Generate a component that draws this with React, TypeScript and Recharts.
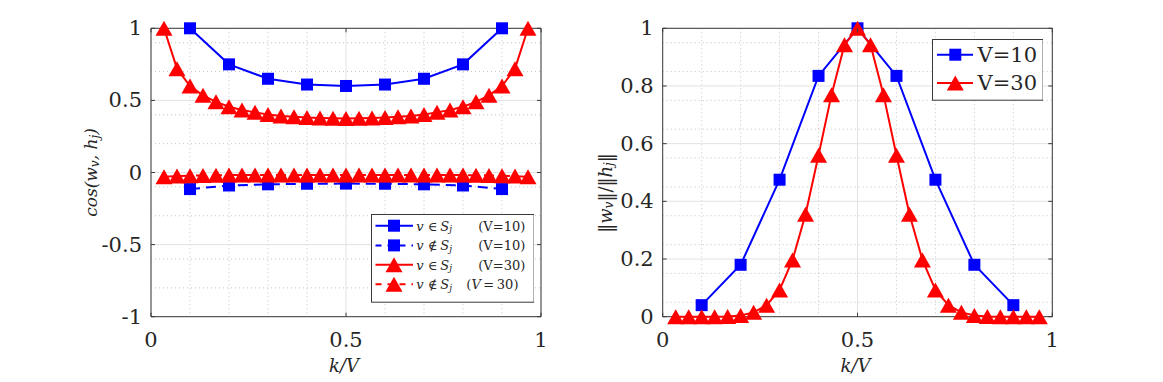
import React from 'react';
import { LineChart, Line, XAxis, YAxis, CartesianGrid, ReferenceArea, Legend } from 'recharts';

// ---------- data ----------
const V_SMALL = 10;
const V_LARGE = 30;
const k10 = [1, 2, 3, 4, 5, 6, 7, 8, 9];
const k30 = [1, 2, 3, 4, 5, 6, 7, 8, 9, 10, 11, 12, 13, 14, 15, 16, 17, 18, 19, 20, 21, 22, 23, 24, 25, 26, 27, 28, 29];

const cosInV10 = [1.0, 0.75, 0.65, 0.61, 0.6, 0.61, 0.65, 0.75, 1.0];
const cosOutV10 = [-0.115, -0.09, -0.082, -0.078, -0.077, -0.078, -0.082, -0.09, -0.115];
const cosInV30 = [1.0, 0.72, 0.6, 0.535, 0.49, 0.456, 0.433, 0.417, 0.402, 0.392, 0.386, 0.381, 0.378, 0.376, 0.375,
  0.376, 0.378, 0.381, 0.386, 0.392, 0.402, 0.417, 0.433, 0.456, 0.49, 0.535, 0.6, 0.72, 1.0];
const cosOutV30 = [-0.03, -0.025, -0.022, -0.02, -0.019, -0.018, -0.018, -0.018, -0.018, -0.018, -0.018, -0.018, -0.018, -0.018, -0.018,
  -0.018, -0.018, -0.018, -0.018, -0.018, -0.018, -0.018, -0.018, -0.018, -0.019, -0.02, -0.022, -0.025, -0.03];

const normV10 = [0.04, 0.18, 0.475, 0.835, 1.0, 0.835, 0.475, 0.18, 0.04];
const normV30 = [0, 0, 0, 0, 0.001, 0.004, 0.015, 0.04, 0.093, 0.197, 0.355, 0.56, 0.77, 0.943, 1.0,
  0.943, 0.77, 0.56, 0.355, 0.197, 0.093, 0.04, 0.015, 0.004, 0.001, 0, 0, 0, 0];

const xTicks = [0, 0.5, 1];
const xMinor = [0.1, 0.2, 0.3, 0.4, 0.6, 0.7, 0.8, 0.9];
const leftYTicks = [-1, -0.5, 0, 0.5, 1];
const leftYMinor = [-0.9, -0.8, -0.7, -0.6, -0.4, -0.3, -0.2, -0.1, 0.1, 0.2, 0.3, 0.4, 0.6, 0.7, 0.8, 0.9];
const rightYTicks = [0, 0.2, 0.4, 0.6, 0.8, 1];
const rightYMinor = [0.05, 0.1, 0.15, 0.25, 0.3, 0.35, 0.45, 0.5, 0.55, 0.65, 0.7, 0.75, 0.85, 0.9, 0.95];

const toPoints = (ks: number[], V: number, ys: number[]) => ks.map((k, i) => ({ x: k / V, y: ys[i] }));

const sInV10 = toPoints(k10, V_SMALL, cosInV10);
const sOutV10 = toPoints(k10, V_SMALL, cosOutV10);
const sInV30 = toPoints(k30, V_LARGE, cosInV30);
const sOutV30 = toPoints(k30, V_LARGE, cosOutV30);
const sNormV10 = toPoints(k10, V_SMALL, normV10);
const sNormV30 = toPoints(k30, V_LARGE, normV30);

// ---------- styles ----------
const BLUE = '#0000ff';
const RED = '#ff0000';
const AX = '#3a3a3a';
const TXT = '#262626';
const FONT = "'DejaVu Serif', serif";
const TICK_FS = 21;
const SQ = 12;
const TRI_W = 17;
const TRI_H = 15;

const H = 382;
const TOP = 28.3;
const BOTTOM = 316.7;
const L_W = 580;
const L_LEFT = 151;
const L_RIGHT = 541;
const R_OFF = 580;
const R_W = 583;
const R_LEFT = 662.7 - R_OFF;
const R_RIGHT = 1052.3 - R_OFF;
const Y_AXIS_W = 60;
const X_AXIS_H = 30;

const Square = ({ cx, cy, color }: any) => (
  <rect x={cx - SQ / 2} y={cy - SQ / 2} width={SQ} height={SQ} fill={color} />
);
const Triangle = ({ cx, cy, color }: any) => (
  <polygon
    points={`${cx},${cy - TRI_H / 2} ${cx + TRI_W / 2},${cy + TRI_H / 2} ${cx - TRI_W / 2},${cy + TRI_H / 2}`}
    fill={color}
  />
);

const squareDot = (color: string) => (p: any) => (
  <Square key={`s${p.index}`} cx={p.cx} cy={p.cy} color={color} />
);
const triDot = (color: string) => (p: any) => (
  <Triangle key={`t${p.index}`} cx={p.cx} cy={p.cy} color={color} />
);

const makeXTick = (plotTop: number, plotBottom: number) => (props: any) => {
  const { x, payload } = props;
  return (
    <g>
      <line x1={x} x2={x} y1={plotBottom} y2={plotBottom - 4} stroke={AX} strokeWidth={1} />
      <line x1={x} x2={x} y1={plotTop} y2={plotTop + 4} stroke={AX} strokeWidth={1} />
      <text x={x} y={plotBottom + 23.5} textAnchor="middle" dominantBaseline="central" style={{ fontFamily: FONT, fontSize: TICK_FS }} fill={TXT}>
        {String(payload.value)}
      </text>
    </g>
  );
};

const makeYTick = (plotLeft: number, plotRight: number) => (props: any) => {
  const { y, payload } = props;
  return (
    <g>
      <line x1={plotLeft} x2={plotLeft + 4} y1={y} y2={y} stroke={AX} strokeWidth={1} />
      <line x1={plotRight - 4} x2={plotRight} y1={y} y2={y} stroke={AX} strokeWidth={1} />
      <text x={plotLeft - 9} y={y} textAnchor="end" dominantBaseline="central" style={{ fontFamily: FONT, fontSize: TICK_FS }} fill={TXT}>
        {String(payload.value)}
      </text>
    </g>
  );
};

const XLabel = ({ cx }: any) => (
  <text x={cx} y={365} textAnchor="middle" dominantBaseline="central" style={{ fontFamily: FONT, fontSize: 18, fontStyle: 'italic' }} fill={TXT}>
    k/V
  </text>
);

const LeftYLabel = () => (
  <text transform="translate(91,172.5) rotate(-90)" textAnchor="middle" dominantBaseline="central" style={{ fontFamily: FONT, fontSize: 17, fontStyle: 'italic' }} fill={TXT}>
    <tspan>cos(w</tspan>
    <tspan fontSize={12} dy={4}>v</tspan>
    <tspan dy={-4}>{', h'}</tspan>
    <tspan fontSize={12} dy={4}>j</tspan>
    <tspan dy={-4}>)</tspan>
  </text>
);

const RightYLabel = () => (
  <text transform={`translate(${605 - R_OFF},193) rotate(-90)`} textAnchor="middle" dominantBaseline="central" style={{ fontFamily: FONT, fontSize: 18, fontStyle: 'italic' }} fill={TXT}>
    <tspan fontStyle="normal">‖</tspan>
    <tspan>w</tspan>
    <tspan fontSize={12} dy={4}>v</tspan>
    <tspan dy={-4} fontStyle="normal">{'‖/‖'}</tspan>
    <tspan>h</tspan>
    <tspan fontSize={12} dy={4}>j</tspan>
    <tspan dy={-4} fontStyle="normal">‖</tspan>
  </text>
);

// ---------- legends ----------
const LEFT_LEG = { left: 370.7, top: 214, width: 163.6, height: 88.7 };
const leftRows = [
  { color: BLUE, marker: 'square', dashed: false, rel: '\u2208', tail: '(V=10)', tailX: 107.3, italicV: false },
  { color: BLUE, marker: 'square', dashed: true, rel: '\u2209', tail: '(V=10)', tailX: 107.3, italicV: false },
  { color: RED, marker: 'tri', dashed: false, rel: '\u2208', tail: '(V=30)', tailX: 107.3, italicV: false },
  { color: RED, marker: 'tri', dashed: true, rel: '\u2209', tail: '', tailX: 95.3, italicV: true },
];
const leftRowY = [11.7, 31.4, 50.8, 70.2];

const LeftLegendContent = () => (
  <svg width={LEFT_LEG.width} height={LEFT_LEG.height} style={{ display: 'block' }}>
    <rect x={0.5} y={0.5} width={LEFT_LEG.width - 1} height={LEFT_LEG.height - 1} fill="#fff" stroke={AX} strokeWidth={1} />
    {leftRows.map((r, i) => {
      const cy = leftRowY[i];
      return (
        <g key={i}>
          <line x1={4.5} x2={42} y1={cy} y2={cy} stroke={r.color} strokeWidth={2} strokeDasharray={r.dashed ? '6 6' : undefined} />
          {r.marker === 'square' ? <Square cx={23} cy={cy} color={r.color} /> : <Triangle cx={23} cy={cy} color={r.color} />}
          <text y={cy} dominantBaseline="central" style={{ fontFamily: FONT, fontSize: 13 }} fill={TXT}>
            <tspan x={45.3} fontStyle="italic">v</tspan>
            <tspan x={57}>{r.rel}</tspan>
            <tspan x={69.3} fontStyle="italic">S</tspan>
            <tspan fontStyle="italic" fontSize={9} dy={3.5}>j</tspan>
            {r.italicV ? (
              <>
                <tspan x={r.tailX} dy={-3.5}>(</tspan>
                <tspan fontStyle="italic">V</tspan>
                <tspan>{'\u2009=\u200930)'}</tspan>
              </>
            ) : (
              <tspan x={r.tailX} dy={-3.5}>{r.tail}</tspan>
            )}
          </text>
        </g>
      );
    })}
  </svg>
);

const RIGHT_LEG = { left: 931.7 - R_OFF, top: 39.3, width: 111.6, height: 61.7 };
const rightRows = [
  { color: BLUE, marker: 'square', text: 'V=10' },
  { color: RED, marker: 'tri', text: 'V=30' },
];
const rightRowY = [15.7, 44];

const RightLegendContent = () => (
  <svg width={RIGHT_LEG.width} height={RIGHT_LEG.height} style={{ display: 'block' }}>
    <rect x={0.5} y={0.5} width={RIGHT_LEG.width - 1} height={RIGHT_LEG.height - 1} fill="#fff" stroke={AX} strokeWidth={1} />
    {rightRows.map((r, i) => {
      const cy = rightRowY[i];
      return (
        <g key={i}>
          <line x1={5} x2={41} y1={cy} y2={cy} stroke={r.color} strokeWidth={2} />
          {r.marker === 'square' ? <Square cx={23.3} cy={cy} color={r.color} /> : <Triangle cx={23.3} cy={cy} color={r.color} />}
          <text x={45.6} y={cy} dominantBaseline="central" style={{ fontFamily: FONT, fontSize: 21 }} fill={TXT}>{r.text}</text>
        </g>
      );
    })}
  </svg>
);

export default function App() {
  return (
    <div style={{ position: 'absolute', left: 0, top: 0, width: 1163, height: H, background: '#fff', overflow: 'hidden' }}>
      <div style={{ position: 'absolute', left: 0, top: 0 }}>
        <LineChart
          width={L_W}
          height={H}
          margin={{ top: TOP, right: L_W - L_RIGHT, bottom: H - BOTTOM - X_AXIS_H, left: L_LEFT - Y_AXIS_W }}
        >
          <CartesianGrid verticalValues={xMinor} horizontalValues={leftYMinor} stroke="#c4c4c4" strokeDasharray="1 3" />
          <CartesianGrid verticalValues={xTicks} horizontalValues={leftYTicks} stroke="#e2e2e2" />
          <XAxis
            type="number"
            dataKey="x"
            domain={[0, 1]}
            ticks={xTicks}
            height={X_AXIS_H}
            axisLine={false}
            tickLine={false}
            tick={makeXTick(TOP, BOTTOM)}
            label={<XLabel cx={(L_LEFT + L_RIGHT) / 2 - 2} />}
          />
          <YAxis
            type="number"
            dataKey="y"
            domain={[-1, 1]}
            ticks={leftYTicks}
            width={Y_AXIS_W}
            axisLine={false}
            tickLine={false}
            tick={makeYTick(L_LEFT, L_RIGHT)}
            label={<LeftYLabel />}
          />
          <ReferenceArea x1={0} x2={1} y1={-1} y2={1} fill="none" fillOpacity={0} stroke={AX} strokeWidth={1} />
          <Line data={sInV10} dataKey="y" name="in10" type="linear" stroke={BLUE} strokeWidth={2} dot={squareDot(BLUE)} activeDot={false} isAnimationActive={false} />
          <Line data={sOutV10} dataKey="y" name="out10" type="linear" stroke={BLUE} strokeWidth={2} strokeDasharray="10 6" dot={squareDot(BLUE)} activeDot={false} isAnimationActive={false} />
          <Line data={sInV30} dataKey="y" name="in30" type="linear" stroke={RED} strokeWidth={2} dot={triDot(RED)} activeDot={false} isAnimationActive={false} />
          <Line data={sOutV30} dataKey="y" name="out30" type="linear" stroke={RED} strokeWidth={2} strokeDasharray="10 6" dot={triDot(RED)} activeDot={false} isAnimationActive={false} />
          <Legend
            layout="vertical"
            align="center"
            verticalAlign="middle"
            wrapperStyle={{ left: LEFT_LEG.left, top: LEFT_LEG.top, width: LEFT_LEG.width, height: LEFT_LEG.height }}
            content={() => <LeftLegendContent />}
          />
        </LineChart>
      </div>
      <div style={{ position: 'absolute', left: R_OFF, top: 0 }}>
        <LineChart
          width={R_W}
          height={H}
          margin={{ top: TOP, right: R_W - R_RIGHT, bottom: H - BOTTOM - X_AXIS_H, left: R_LEFT - Y_AXIS_W }}
        >
          <CartesianGrid verticalValues={xMinor} horizontalValues={rightYMinor} stroke="#c4c4c4" strokeDasharray="1 3" />
          <CartesianGrid verticalValues={xTicks} horizontalValues={rightYTicks} stroke="#e2e2e2" />
          <XAxis
            type="number"
            dataKey="x"
            domain={[0, 1]}
            ticks={xTicks}
            height={X_AXIS_H}
            axisLine={false}
            tickLine={false}
            tick={makeXTick(TOP, BOTTOM)}
            label={<XLabel cx={(R_LEFT + R_RIGHT) / 2 - 2} />}
          />
          <YAxis
            type="number"
            dataKey="y"
            domain={[0, 1]}
            ticks={rightYTicks}
            width={Y_AXIS_W}
            axisLine={false}
            tickLine={false}
            tick={makeYTick(R_LEFT, R_RIGHT)}
            label={<RightYLabel />}
          />
          <ReferenceArea x1={0} x2={1} y1={0} y2={1} fill="none" fillOpacity={0} stroke={AX} strokeWidth={1} />
          <Line data={sNormV10} dataKey="y" name="V=10" type="linear" stroke={BLUE} strokeWidth={2} dot={squareDot(BLUE)} activeDot={false} isAnimationActive={false} />
          <Line data={sNormV30} dataKey="y" name="V=30" type="linear" stroke={RED} strokeWidth={2} dot={triDot(RED)} activeDot={false} isAnimationActive={false} />
          <Legend
            layout="vertical"
            align="center"
            verticalAlign="middle"
            wrapperStyle={{ left: RIGHT_LEG.left, top: RIGHT_LEG.top, width: RIGHT_LEG.width, height: RIGHT_LEG.height }}
            content={() => <RightLegendContent />}
          />
        </LineChart>
      </div>
    </div>
  );
}
